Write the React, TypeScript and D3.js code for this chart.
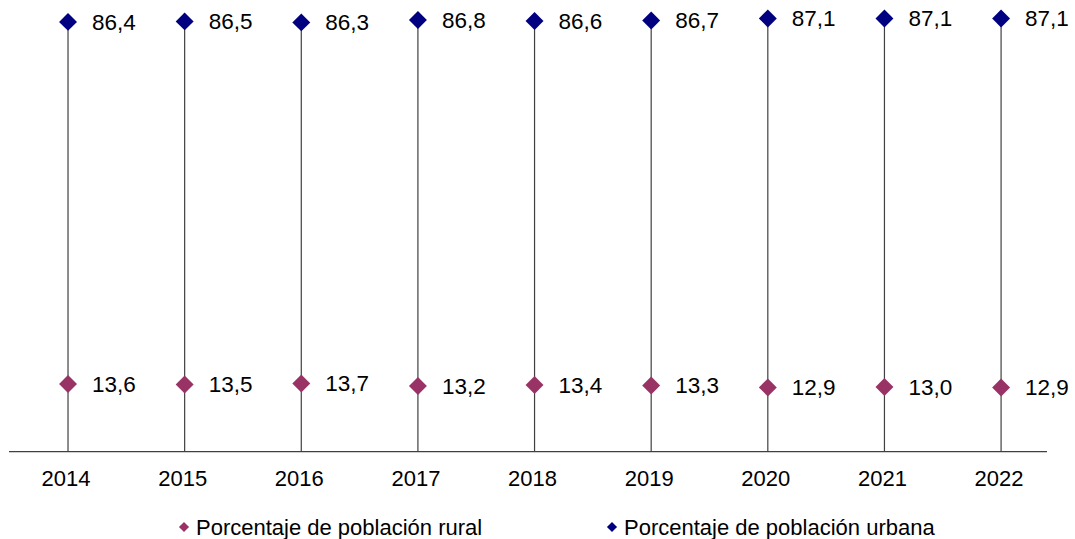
import { useEffect, useRef } from "react";
import * as d3 from "d3";

const years = ["2014", "2015", "2016", "2017", "2018", "2019", "2020", "2021", "2022"];
const urbana = [86.4, 86.5, 86.3, 86.8, 86.6, 86.7, 87.1, 87.1, 87.1];
const rural = [13.6, 13.5, 13.7, 13.2, 13.4, 13.3, 12.9, 13.0, 12.9];
const seriesNames = ["Porcentaje de población rural", "Porcentaje de población urbana"];
const seriesColors = ["#993366", "#000080"];

const fmt = (v: number) => v.toFixed(1).replace(".", ",");

function App() {
  const svgRef = useRef<SVGSVGElement>(null);
  const width = 1075;
  const height = 539;

  useEffect(() => {
    const svg = d3.select(svgRef.current);
    svg.selectAll("*").remove();

    const x = d3.scaleBand().domain(years).range([9.7, 1059.4]);
    const y = d3.scaleLinear().domain([0, 90]).range([451.6, 4]);
    const cx = (d: string) => (x(d) as number) + x.bandwidth() / 2;
    const font = "'Liberation Sans', Arial, sans-serif";
    const diamond = d3.symbol().type(d3.symbolDiamond2);

    // drop lines
    svg.append("g")
      .selectAll("line")
      .data(years)
      .join("line")
      .attr("x1", (d) => cx(d))
      .attr("x2", (d) => cx(d))
      .attr("y1", (d, i) => y(urbana[i]))
      .attr("y2", y(0))
      .attr("stroke", "#404040")
      .attr("stroke-width", 1.2);

    // axis line
    svg.append("line")
      .attr("x1", 9)
      .attr("x2", 1047)
      .attr("y1", y(0))
      .attr("y2", y(0))
      .attr("stroke", "#404040")
      .attr("stroke-width", 1.3);

    svg.append("g")
      .selectAll("text")
      .data(years)
      .join("text")
      .attr("x", (d) => cx(d) - 2)
      .attr("y", 486)
      .attr("text-anchor", "middle")
      .attr("font-family", font)
      .attr("font-size", 22)
      .attr("fill", "#000")
      .text((d) => d);

    const series = [rural, urbana];
    series.forEach((vals, s) => {
      const g = svg.append("g");
      g.selectAll("path")
        .data(vals)
        .join("path")
        .attr("d", diamond.size(205)())
        .attr("transform", (d, i) => `translate(${cx(years[i])},${y(d)})`)
        .attr("fill", seriesColors[s]);
      g.selectAll("text")
        .data(vals)
        .join("text")
        .attr("x", (d, i) => cx(years[i]) + 24)
        .attr("y", (d) => y(d))
        .attr("dy", "0.35em")
        .attr("font-family", font)
        .attr("font-size", 22.5)
        .attr("fill", "#000")
        .text((d) => fmt(d));
    });

    // legend
    const legendX = [184, 612];
    const legend = svg.append("g")
      .selectAll("g")
      .data(seriesNames)
      .join("g")
      .attr("transform", (d, i) => `translate(${legendX[i]},527)`);
    legend.append("path")
      .attr("d", diamond.size(65)())
      .attr("fill", (d, i) => seriesColors[i]);
    legend.append("text")
      .attr("x", 12)
      .attr("y", 0)
      .attr("dy", "0.35em")
      .attr("font-family", font)
      .attr("font-size", 22)
      .attr("fill", "#000")
      .text((d) => d);
  }, []);

  return (
    <svg
      ref={svgRef}
      width={width}
      height={height}
      viewBox={`0 0 ${width} ${height}`}
      style={{ position: "absolute", left: 0, top: 0, background: "#fff" }}
    />
  );
}

export default App;
